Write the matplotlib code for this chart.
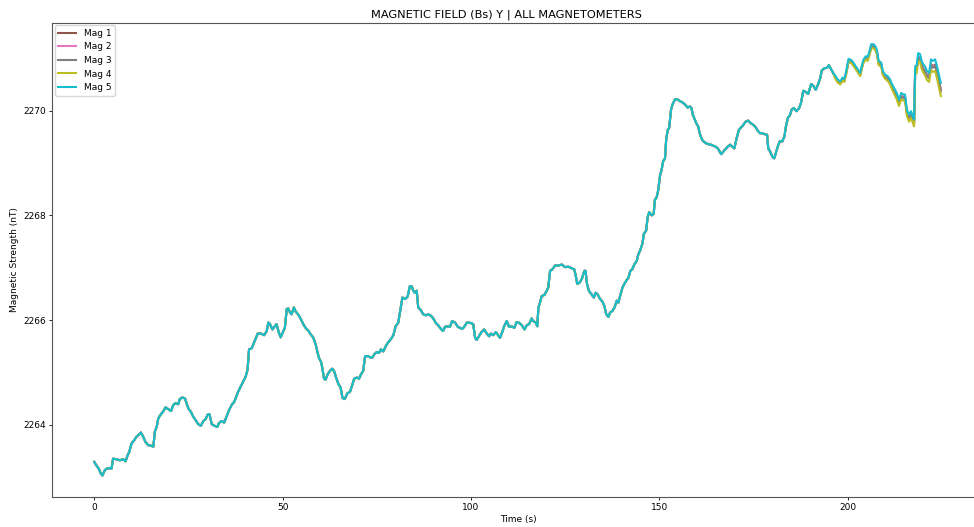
import matplotlib
matplotlib.use("Agg")
import matplotlib.pyplot as plt

# Time stamps (s) for every sample
time_s = [
    0.0, 0.6, 1.2, 1.8, 2.2, 2.8, 3.3, 4.2, 4.6, 5.0, 5.9, 6.8, 7.7, 8.3, 8.9, 9.3, 9.9, 10.6,
    11.2, 11.9, 12.4, 13.0, 13.6, 14.3, 15.0, 15.7, 16.1, 16.6, 17.0, 17.7, 18.3, 18.9, 19.6,
    20.4, 21.0, 21.6, 22.3, 22.7, 23.4, 24.1, 24.5, 25.0, 25.7, 26.3, 26.9, 27.6, 28.3, 28.9,
    29.6, 30.1, 30.6, 31.2, 31.9, 32.7, 33.1, 33.8, 34.5, 35.1, 35.8, 36.5, 37.2, 38.2, 38.9,
    39.6, 40.2, 40.7, 41.1, 41.8, 42.2, 42.8, 43.4, 44.3, 45.1, 45.8, 46.2, 46.6, 47.3, 47.8,
    48.4, 49.0, 49.5, 50.2, 50.6, 51.1, 51.5, 52.0, 52.4, 53.0, 53.5, 54.2, 54.9, 55.5, 56.1,
    56.8, 57.5, 58.1, 58.8, 59.3, 59.7, 60.2, 60.5, 61.0, 61.4, 62.0, 62.6, 63.2, 63.7, 64.2,
    64.8, 65.4, 65.9, 66.5, 67.2, 67.9, 68.5, 69.0, 69.7, 70.3, 70.8, 71.4, 71.9, 72.6, 73.2,
    73.8, 74.3, 75.0, 75.6, 76.1, 76.7, 77.4, 77.9, 78.8, 79.4, 80.0, 80.7, 81.2, 81.8, 82.5,
    83.2, 83.8, 84.3, 84.7, 85.1, 85.6, 86.0, 86.7, 87.3, 88.0, 88.7, 89.4, 90.0, 90.6, 91.3,
    92.0, 92.6, 93.1, 93.8, 94.4, 95.0, 95.8, 96.5, 97.1, 97.7, 98.2, 98.9, 99.5, 100.0, 100.6,
    101.1, 101.5, 102.1, 102.8, 103.5, 104.2, 104.8, 105.3, 105.9, 106.6, 107.1, 107.7, 108.3,
    108.8, 109.5, 110.1, 110.8, 111.5, 112.1, 112.7, 113.5, 114.2, 114.8, 115.4, 116.1, 116.5,
    117.2, 117.6, 117.9, 118.3, 118.8, 119.5, 120.1, 120.5, 121.0, 121.6, 122.3, 123.2, 124.1,
    125.0, 125.8, 126.7, 127.4, 127.8, 128.2, 128.9, 129.5, 130.1, 130.4, 130.8, 131.3, 132.0,
    132.6, 133.1, 133.6, 134.3, 134.9, 135.4, 135.9, 136.5, 136.9, 137.5, 138.1, 138.7, 139.1,
    139.6, 140.2, 140.7, 141.2, 141.8, 142.3, 142.8, 143.4, 144.0, 144.4, 144.9, 145.5, 145.9,
    146.5, 146.9, 147.3, 148.0, 148.5, 148.8, 149.3, 149.7, 150.2, 150.6, 151.0, 151.5, 151.8,
    152.2, 152.6, 153.1, 153.5, 154.2, 154.9, 155.5, 156.1, 156.8, 157.5, 158.1, 158.5, 158.9,
    159.4, 159.8, 160.3, 160.7, 161.2, 161.6, 162.3, 163.0, 163.7, 164.3, 165.0, 165.6, 166.4,
    167.0, 167.6, 168.1, 168.8, 169.4, 169.9, 170.5, 171.1, 171.7, 172.3, 172.9, 173.6, 174.3,
    174.9, 175.6, 176.1, 176.7, 177.3, 178.0, 178.6, 178.9, 179.4, 180.0, 180.5, 180.9, 181.4,
    182.0, 182.6, 183.2, 183.6, 184.1, 184.7, 185.1, 185.7, 186.4, 187.1, 187.6, 188.2, 188.8,
    189.5, 190.3, 190.9, 191.5, 192.1, 192.7, 193.1, 193.8, 194.5, 195.0, 195.6, 196.2,
    # last stretch, where the sensors drift apart
    196.8, 197.3, 198.0, 198.6, 199.1, 199.7, 200.2, 200.9, 201.5, 202.1, 202.7, 203.3, 203.7,
    204.2, 204.8, 205.3, 205.9, 206.2, 206.9, 207.5, 207.8, 208.2, 208.9, 209.3, 209.9, 210.6,
    211.2, 211.8, 212.4, 213.0, 213.6, 214.2, 214.8, 215.2, 215.7, 216.3, 216.8, 217.3, 217.6,
    217.9, 218.3, 218.7, 219.2, 219.6, 220.1, 220.5, 221.0, 221.6, 222.1, 222.6, 223.2, 223.7,
    224.2, 224.7,
]

# Bs Y (nT) while all five magnetometers read the same
shared_bs = [
    2263.29, 2263.22, 2263.16, 2263.06, 2263.03, 2263.13, 2263.16, 2263.17, 2263.16, 2263.35,
    2263.34, 2263.32, 2263.34, 2263.30, 2263.42, 2263.48, 2263.64, 2263.70, 2263.77, 2263.81,
    2263.85, 2263.77, 2263.67, 2263.61, 2263.60, 2263.58, 2263.87, 2263.96, 2264.12, 2264.20,
    2264.25, 2264.33, 2264.30, 2264.26, 2264.38, 2264.41, 2264.39, 2264.49, 2264.52, 2264.50,
    2264.41, 2264.31, 2264.24, 2264.15, 2264.09, 2264.01, 2263.98, 2264.06, 2264.11, 2264.19,
    2264.20, 2264.01, 2263.98, 2263.96, 2264.03, 2264.07, 2264.04, 2264.15, 2264.28, 2264.38,
    2264.44, 2264.63, 2264.73, 2264.83, 2264.92, 2265.05, 2265.44, 2265.46, 2265.53, 2265.63,
    2265.74, 2265.74, 2265.71, 2265.79, 2265.95, 2265.93, 2265.82, 2265.87, 2265.92, 2265.76,
    2265.67, 2265.79, 2265.85, 2266.21, 2266.22, 2266.14, 2266.11, 2266.24, 2266.16, 2266.10,
    2266.01, 2265.92, 2265.85, 2265.80, 2265.72, 2265.67, 2265.53, 2265.37, 2265.27, 2265.20,
    2265.10, 2264.88, 2264.86, 2264.97, 2265.03, 2265.07, 2265.02, 2264.90, 2264.78, 2264.71,
    2264.51, 2264.49, 2264.60, 2264.63, 2264.76, 2264.88, 2264.90, 2264.88, 2264.96, 2265.03,
    2265.31, 2265.31, 2265.29, 2265.28, 2265.34, 2265.39, 2265.37, 2265.44, 2265.40, 2265.50,
    2265.56, 2265.64, 2265.71, 2265.88, 2265.95, 2266.17, 2266.43, 2266.40, 2266.45, 2266.65,
    2266.64, 2266.56, 2266.52, 2266.56, 2266.24, 2266.19, 2266.11, 2266.09, 2266.11, 2266.08,
    2266.03, 2265.95, 2265.90, 2265.83, 2265.79, 2265.87, 2265.88, 2265.87, 2265.98, 2265.95,
    2265.87, 2265.85, 2265.83, 2265.87, 2265.95, 2265.95, 2265.94, 2265.92, 2265.66, 2265.62,
    2265.69, 2265.77, 2265.82, 2265.74, 2265.69, 2265.74, 2265.71, 2265.77, 2265.72, 2265.66,
    2265.77, 2265.88, 2265.98, 2265.87, 2265.88, 2265.85, 2265.96, 2265.95, 2265.90, 2265.82,
    2265.90, 2265.92, 2266.03, 2265.98, 2265.95, 2265.88, 2266.24, 2266.33, 2266.46, 2266.48,
    2266.56, 2266.62, 2266.94, 2266.97, 2267.04, 2267.04, 2267.06, 2267.01, 2267.02, 2266.99,
    2266.97, 2266.85, 2266.69, 2266.72, 2266.80, 2266.94, 2266.94, 2266.69, 2266.56, 2266.49,
    2266.43, 2266.52, 2266.49, 2266.40, 2266.35, 2266.27, 2266.11, 2266.06, 2266.14, 2266.17,
    2266.24, 2266.37, 2266.33, 2266.46, 2266.62, 2266.69, 2266.75, 2266.81, 2266.94, 2266.97,
    2267.07, 2267.13, 2267.25, 2267.33, 2267.46, 2267.65, 2267.71, 2267.97, 2268.06, 2268.00,
    2268.03, 2268.29, 2268.35, 2268.48, 2268.77, 2268.87, 2269.03, 2269.09, 2269.44, 2269.63,
    2269.67, 2270.02, 2270.12, 2270.22, 2270.21, 2270.18, 2270.16, 2270.12, 2270.06, 2270.08,
    2270.05, 2269.92, 2269.83, 2269.76, 2269.70, 2269.57, 2269.47, 2269.42, 2269.38, 2269.36,
    2269.35, 2269.33, 2269.31, 2269.27, 2269.17, 2269.22, 2269.27, 2269.31, 2269.35, 2269.31,
    2269.28, 2269.47, 2269.63, 2269.68, 2269.73, 2269.79, 2269.81, 2269.76, 2269.73, 2269.68,
    2269.62, 2269.57, 2269.57, 2269.55, 2269.54, 2269.28, 2269.22, 2269.12, 2269.09, 2269.19,
    2269.31, 2269.42, 2269.41, 2269.51, 2269.70, 2269.86, 2269.92, 2270.02, 2270.05, 2269.99,
    2270.05, 2270.15, 2270.38, 2270.36, 2270.32, 2270.51, 2270.47, 2270.40, 2270.50, 2270.62,
    2270.77, 2270.81, 2270.82, 2270.87, 2270.79, 2270.71,
]

# Per-sensor readings over the last stretch
mag1_tail = [
    2270.63, 2270.57, 2270.53, 2270.60, 2270.58, 2270.76, 2270.96, 2270.94, 2270.89, 2270.82,
    2270.76, 2270.69, 2270.82, 2270.95, 2271.01, 2270.99, 2271.13, 2271.23, 2271.23, 2271.17,
    2271.10, 2270.91, 2270.88, 2270.72, 2270.65, 2270.62, 2270.56, 2270.45, 2270.37, 2270.28,
    2270.16, 2270.29, 2270.26, 2270.26, 2269.97, 2269.86, 2269.93, 2269.83, 2269.77, 2270.78,
    2270.80, 2271.03, 2271.01, 2270.88, 2270.80, 2270.77, 2270.68, 2270.64, 2270.89, 2270.85,
    2270.88, 2270.74, 2270.57, 2270.41,
]
mag2_tail = [
    2270.62, 2270.56, 2270.52, 2270.59, 2270.57, 2270.75, 2270.95, 2270.93, 2270.88, 2270.81,
    2270.75, 2270.68, 2270.81, 2270.94, 2271.00, 2270.99, 2271.13, 2271.22, 2271.22, 2271.16,
    2271.09, 2270.91, 2270.88, 2270.72, 2270.64, 2270.61, 2270.55, 2270.45, 2270.36, 2270.28,
    2270.15, 2270.28, 2270.25, 2270.25, 2269.96, 2269.85, 2269.92, 2269.82, 2269.76, 2270.77,
    2270.79, 2271.02, 2271.00, 2270.87, 2270.79, 2270.76, 2270.67, 2270.63, 2270.87, 2270.84,
    2270.86, 2270.72, 2270.55, 2270.39,
]
mag3_tail = [
    2270.62, 2270.56, 2270.52, 2270.59, 2270.57, 2270.75, 2270.95, 2270.93, 2270.88, 2270.81,
    2270.75, 2270.68, 2270.81, 2270.94, 2271.00, 2270.98, 2271.12, 2271.22, 2271.22, 2271.16,
    2271.09, 2270.90, 2270.87, 2270.71, 2270.64, 2270.61, 2270.55, 2270.44, 2270.35, 2270.27,
    2270.14, 2270.27, 2270.24, 2270.24, 2269.95, 2269.84, 2269.91, 2269.81, 2269.75, 2270.76,
    2270.78, 2271.01, 2270.99, 2270.86, 2270.78, 2270.75, 2270.66, 2270.62, 2270.86, 2270.82,
    2270.85, 2270.71, 2270.54, 2270.37,
]
mag4_tail = [
    2270.60, 2270.54, 2270.50, 2270.57, 2270.55, 2270.73, 2270.93, 2270.91, 2270.86, 2270.79,
    2270.73, 2270.66, 2270.79, 2270.92, 2270.98, 2270.95, 2271.09, 2271.19, 2271.19, 2271.13,
    2271.06, 2270.87, 2270.84, 2270.68, 2270.61, 2270.57, 2270.51, 2270.40, 2270.31, 2270.22,
    2270.09, 2270.22, 2270.19, 2270.19, 2269.90, 2269.79, 2269.86, 2269.76, 2269.70, 2270.70,
    2270.72, 2270.95, 2270.93, 2270.80, 2270.72, 2270.68, 2270.59, 2270.55, 2270.78, 2270.74,
    2270.76, 2270.62, 2270.45, 2270.28,
]
mag5_tail = [
    2270.66, 2270.60, 2270.56, 2270.63, 2270.61, 2270.79, 2270.99, 2270.97, 2270.92, 2270.85,
    2270.79, 2270.72, 2270.85, 2270.98, 2271.04, 2271.03, 2271.17, 2271.27, 2271.27, 2271.21,
    2271.14, 2270.95, 2270.92, 2270.76, 2270.69, 2270.66, 2270.60, 2270.50, 2270.42, 2270.34,
    2270.21, 2270.34, 2270.31, 2270.31, 2270.02, 2269.92, 2269.99, 2269.89, 2269.83, 2270.85,
    2270.87, 2271.10, 2271.08, 2270.95, 2270.88, 2270.85, 2270.76, 2270.72, 2270.98, 2270.95,
    2270.98, 2270.85, 2270.69, 2270.53,
]

labels = ["Mag 1", "Mag 2", "Mag 3", "Mag 4", "Mag 5"]
colors = ["tab:brown", "tab:pink", "tab:gray", "tab:olive", "tab:cyan"]
tails = [mag1_tail, mag2_tail, mag3_tail, mag4_tail, mag5_tail]

plt.rcParams["font.family"] = "DejaVu Sans"
fig = plt.figure(figsize=(9.74, 5.27), dpi=100)
# right edge of the axes runs past the canvas on purpose
ax = fig.add_axes([0.0534, 0.0569, 0.957, 0.9001])

for label, color, tail in zip(labels, colors, tails):
    ax.plot(time_s, shared_bs + tail, color=color, linewidth=1.5, label=label)

ax.set_xlim(-11.2, 236.2)
ax.set_title("MAGNETIC FIELD (Bs) Y | ALL MAGNETOMETERS", fontsize=8.2, pad=4, x=0.487)
ax.set_xlabel("Time (s)", fontsize=6.5, labelpad=2)
ax.set_ylabel("Magnetic Strength (nT)", fontsize=6.5, labelpad=3)
ax.set_xticks([0, 50, 100, 150, 200])
ax.set_yticks([2264, 2266, 2268, 2270])
ax.tick_params(labelsize=6.5, length=2.3, width=0.6, pad=2)
for side in ax.spines.values():
    side.set_linewidth(0.8)
    side.set_color("#555555")
ax.spines["right"].set_visible(False)
ax.legend(loc="upper left", fontsize=6.5, handlelength=2.0, borderaxespad=0.3,
          labelspacing=0.5, framealpha=0.8)

fig.savefig("out.png", dpi=100)
